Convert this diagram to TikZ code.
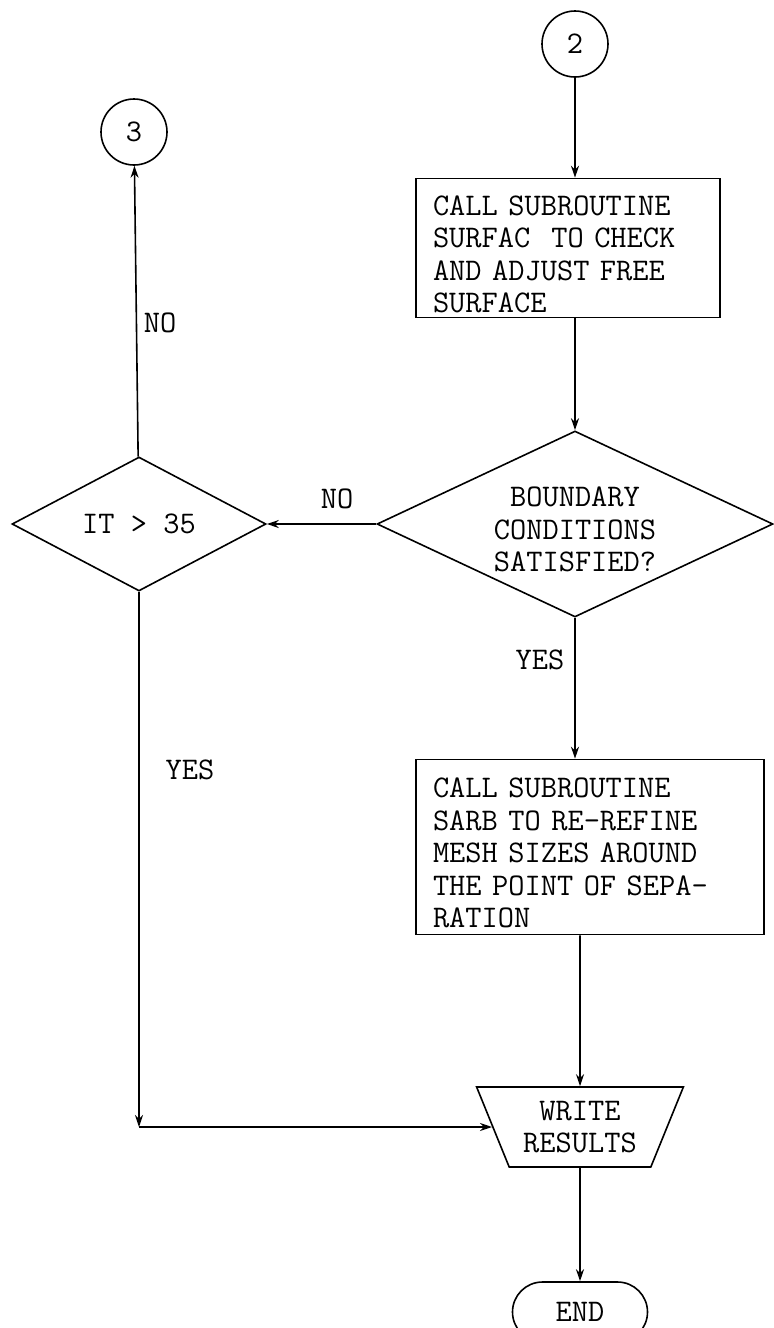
\documentclass[tikz,border=0pt]{standalone}
\usepackage{tikz}
\usetikzlibrary{arrows.meta,shapes.geometric}
\newcommand\flowfont{\ttfamily\fontsize{15.75}{16.25}\selectfont
  \fontdimen2\font=\fontcharwd\font`\M\relax
  \fontdimen3\font=0pt\relax\fontdimen4\font=0pt\relax}

\begin{document}
\begin{tikzpicture}[->, >={Stealth[length=6pt,width=4pt]}, x=0.5pt, y=-0.5pt, thick, font=\flowfont]
    \tikzstyle{connector}=[circle, draw, minimum size=33pt, inner sep=0pt]
    \tikzstyle{process}=[rectangle, draw, align=left, inner xsep=8.5pt, inner ysep=0pt]
    \tikzstyle{decision}=[diamond, draw, align=center, inner sep=0pt]
    \tikzstyle{output}=[trapezium, draw, align=center, shape border rotate=180,
      trapezium left angle=63.4, trapezium right angle=63.4, trapezium stretches=true,
      minimum width=104pt, minimum height=40pt, inner sep=0pt]
    \tikzstyle{terminal}=[rectangle, draw, rounded corners=15pt, minimum width=67.5pt, minimum height=30pt]

    \useasboundingbox (0,0) rectangle (773,1328);

    \node[connector] (two) at (575,44) {2};
    \node[connector] (three) at (134,132) {3};
    \node[process, text width=135pt, minimum height=69.5pt] (surfac) at (568,248)
      {\rule{0pt}{16pt}CALL SUBROUTINE\\SURFAC\ \ TO CHECK\\AND ADJUST FREE\\SURFACE};
    \node[decision, aspect=2.13, minimum width=198pt, minimum height=93pt] (boundary) at (575,524)
      {\rule{0pt}{15.5pt}BOUNDARY\\CONDITIONS\\SATISFIED?};
    \node[decision, aspect=1.9, minimum width=127pt, minimum height=67pt] (itcheck) at (139,524) {IT > 35};
    \node[process, text width=157pt, minimum height=87.5pt] (sarb) at (590,847)
      {\rule{0pt}{16pt}CALL SUBROUTINE\\SARB TO RE-REFINE\\MESH SIZES AROUND\\THE POINT OF SEPA-\\RATION};
    \node[output] (write) at (580,1127) {WRITE\\RESULTS};
    \node[terminal] (stop) at (580,1312) {END};

    % branch labels
    \node (nothree) at (160,323) {NO};
    \node (noit) at (337,499) {NO};
    \node (yessarb) at (540,660) {YES};
    \node (yeswrite) at (190,770) {YES};

    \coordinate (turn) at (itcheck |- write);

    \path
    (two) edge (two |- surfac.north)
    (boundary |- surfac.south) edge (boundary)
    (boundary) edge (itcheck)
    (itcheck) edge (three)
    (itcheck) edge (turn)
    (turn) edge (write)
    (boundary) edge (boundary |- sarb.north)
    (write |- sarb.south) edge (write)
    (write) edge (stop);

\end{tikzpicture}
\end{document}
